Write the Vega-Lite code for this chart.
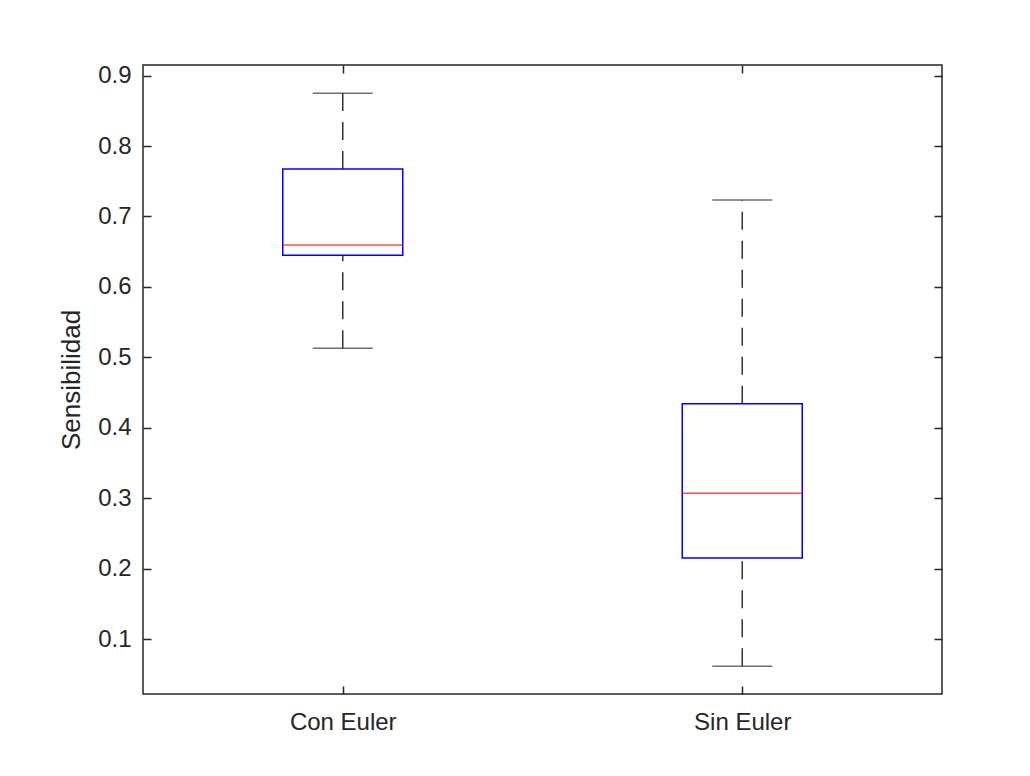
{
  "$schema": "https://vega.github.io/schema/vega-lite/v6.json",
  "width": 799,
  "height": 629,
  "autosize": {"type": "none"},
  "padding": {"left": 143, "top": 65, "right": 88, "bottom": 82},
  "background": "white",
  "config": {
    "font": "Liberation Sans",
    "view": {"stroke": "#262626", "strokeWidth": 1.5},
    "axis": {
      "domain": false,
      "grid": false,
      "tickColor": "#262626",
      "tickWidth": 1.5,
      "tickSize": -8,
      "labelColor": "#262626",
      "labelFont": "Liberation Sans",
      "labelFontSize": 24,
      "titleColor": "#262626",
      "titleFont": "Liberation Sans",
      "titleFontWeight": "normal",
      "titleFontSize": 26
    }
  },
  "data": {
    "values": [
      {"group": "Con Euler", "min": 0.513, "q1": 0.645, "median": 0.6595, "q3": 0.7675, "max": 0.875},
      {"group": "Sin Euler", "min": 0.0615, "q1": 0.215, "median": 0.307, "q3": 0.434, "max": 0.7234}
    ]
  },
  "layer": [
    {
      "mark": {"type": "rule", "color": "#333333", "strokeWidth": 1.5, "strokeDash": [18, 11]},
      "encoding": {
        "x": {"field": "group", "type": "nominal", "scale": {"type": "point", "padding": 0.5},
              "axis": {"orient": "bottom", "title": null, "labelAngle": 0, "labelPadding": 24}},
        "y": {"field": "q3", "type": "quantitative", "scale": {"domain": [0.022, 0.915], "nice": false, "zero": false},
              "axis": {"orient": "left", "title": "Sensibilidad", "values": [0.1,0.2,0.3,0.4,0.5,0.6,0.7,0.8,0.9], "format": ".1f", "labelPadding": 20, "titlePadding": 13}},
        "y2": {"field": "max"}
      }
    },
    {
      "mark": {"type": "rule", "color": "#333333", "strokeWidth": 1.5, "strokeDash": [18, 11]},
      "encoding": {
        "x": {"field": "group", "type": "nominal", "axis": {"orient": "top", "title": null, "labels": false}},
        "y": {"field": "min", "type": "quantitative",
              "axis": {"orient": "right", "title": null, "labels": false, "values": [0.1,0.2,0.3,0.4,0.5,0.6,0.7,0.8,0.9]}},
        "y2": {"field": "q1"}
      }
    },
    {
      "mark": {"type": "tick", "color": "#333333", "thickness": 1.5, "size": 60, "orient": "horizontal"},
      "encoding": {
        "x": {"field": "group", "type": "nominal", "axis": null},
        "y": {"field": "max", "type": "quantitative", "axis": null}
      }
    },
    {
      "mark": {"type": "tick", "color": "#333333", "thickness": 1.5, "size": 60, "orient": "horizontal"},
      "encoding": {
        "x": {"field": "group", "type": "nominal", "axis": null},
        "y": {"field": "min", "type": "quantitative", "axis": null}
      }
    },
    {
      "mark": {"type": "bar", "size": 120, "fill": "white", "fillOpacity": 0, "stroke": "#0000FF", "strokeWidth": 1.5},
      "encoding": {
        "x": {"field": "group", "type": "nominal", "axis": null},
        "y": {"field": "q1", "type": "quantitative", "axis": null},
        "y2": {"field": "q3"}
      }
    },
    {
      "mark": {"type": "tick", "color": "#FF0000", "thickness": 1.5, "size": 120, "orient": "horizontal"},
      "encoding": {
        "x": {"field": "group", "type": "nominal", "axis": null},
        "y": {"field": "median", "type": "quantitative", "axis": null}
      }
    }
  ],
  "resolve": {"axis": {"x": "independent", "y": "independent"}}
}
